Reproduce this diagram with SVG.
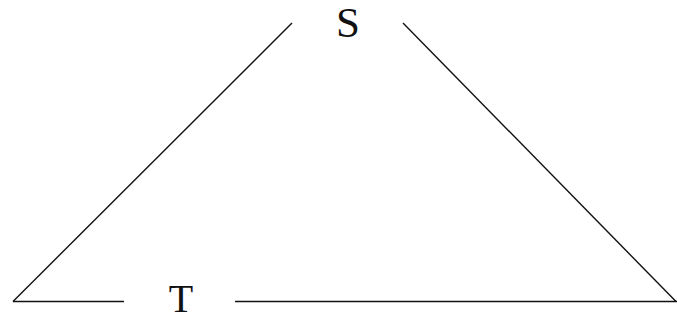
<svg xmlns="http://www.w3.org/2000/svg" width="677" height="321" viewBox="0 0 677 321">
<style>
.ln{stroke:#111;stroke-width:1.4;fill:none}
.lbl{font-family:"Liberation Serif","Times New Roman",serif;fill:#111;text-anchor:middle}
</style>
<rect width="677" height="321" fill="#fff"/>
<g id="connectors">
<line class="ln" x1="13" y1="301.5" x2="292" y2="23"/>
<line class="ln" x1="403" y1="23" x2="676" y2="301.5"/>
<line class="ln" x1="13" y1="301.5" x2="124" y2="301.5"/>
<line class="ln" x1="235" y1="301.5" x2="677" y2="301.5"/>
</g>
<g id="S"><text class="lbl" x="348" y="37" font-size="43">S</text></g>
<g id="T"><text class="lbl" x="181" y="312" font-size="40">T</text></g>
</svg>
